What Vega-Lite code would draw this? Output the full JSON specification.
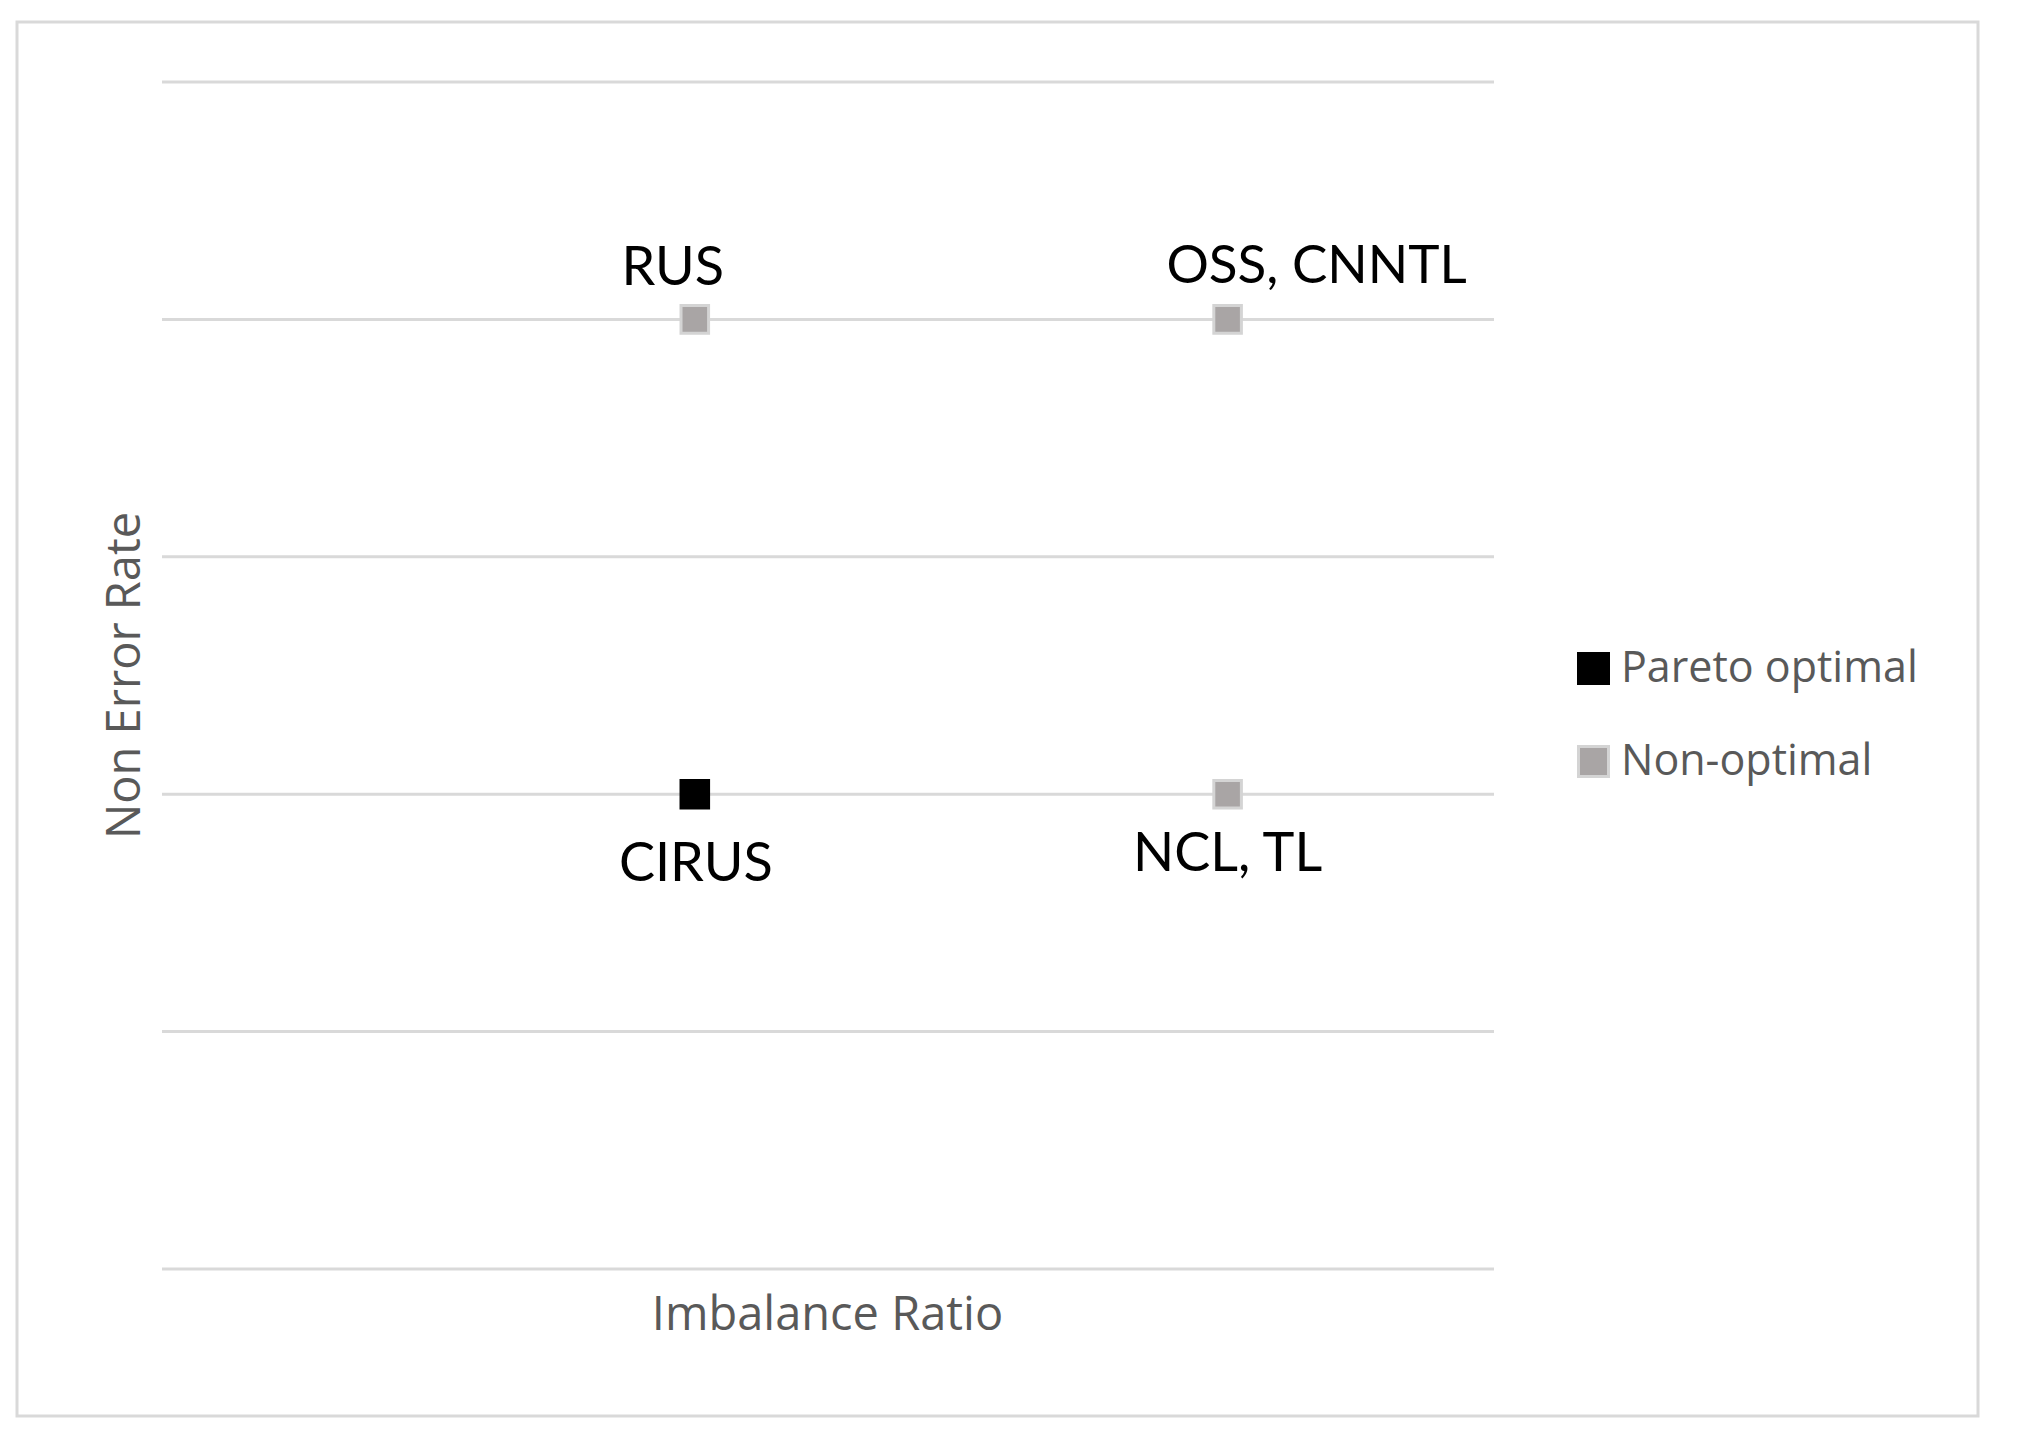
{
  "$schema": "https://vega.github.io/schema/vega-lite/v6.json",
  "width": 1961,
  "height": 1394,
  "autosize": {"type": "none"},
  "padding": {"left": 17, "top": 22, "right": 40, "bottom": 30},
  "background": "white",
  "datasets": {
    "grid": [{"rate": 0}, {"rate": 1}, {"rate": 2}, {"rate": 3}, {"rate": 4}, {"rate": 5}],
    "methods": [
      {"ratio": 2, "rate": 4, "label": "RUS", "status": "Non-optimal"},
      {"ratio": 4, "rate": 4, "label": "OSS, CNNTL", "status": "Non-optimal"},
      {"ratio": 2, "rate": 2, "label": "CIRUS", "status": "Pareto optimal"},
      {"ratio": 4, "rate": 2, "label": "NCL, TL", "status": "Non-optimal"}
    ]
  },
  "config": {
    "view": {"stroke": "#d9d9d9", "strokeWidth": 3},
    "axis": {
      "domain": false, "ticks": false, "labels": false, "grid": false,
      "titleFont": "Open Sans", "titleFontSize": 47, "titleFontWeight": "normal", "titleColor": "#595959"
    },
    "text": {"font": "Lato"}
  },
  "layer": [
    {
      "data": {"name": "grid"},
      "mark": {"type": "rule", "color": "#d9d9d9", "strokeWidth": 3},
      "encoding": {
        "y": {"field": "rate", "type": "quantitative", "title": "Non Error Rate",
              "scale": {"domain": [-0.6192, 5.2527], "nice": false, "zero": false},
              "axis": {"titleX": 122, "titleY": 653, "titleAlign": "center", "titleBaseline": "alphabetic", "titleAngle": 270}},
        "x": {"datum": 0, "type": "quantitative", "title": "Imbalance Ratio",
              "scale": {"domain": [-0.5443, 6.8168], "nice": false, "zero": false},
              "axis": {"titleX": 810, "titleY": -87, "titleAlign": "center", "titleBaseline": "alphabetic"}},
        "x2": {"datum": 5}
      }
    },
    {
      "data": {"name": "methods"},
      "encoding": {
        "y": {"field": "rate", "type": "quantitative", "title": "Non Error Rate",
              "scale": {"domain": [-0.6192, 5.2527], "nice": false, "zero": false},
              "axis": {"titleX": 122, "titleY": 653, "titleAlign": "center", "titleBaseline": "alphabetic", "titleAngle": 270}},
        "x": {"field": "ratio", "type": "quantitative", "title": "Imbalance Ratio",
              "scale": {"domain": [-0.5443, 6.8168], "nice": false, "zero": false},
              "axis": {"titleX": 810, "titleY": -87, "titleAlign": "center", "titleBaseline": "alphabetic"}}
      },
      "layer": [
        {
          "mark": {"type": "point", "shape": "square", "filled": true, "size": 760, "strokeWidth": 3, "opacity": 1, "strokeOpacity": 1, "fillOpacity": 1},
          "encoding": {
            "fill": {"field": "status", "type": "nominal",
                     "scale": {"domain": ["Pareto optimal", "Non-optimal"], "range": ["#000000", "#a9a5a5"]},
                     "legend": {"orient": "none", "legendX": 1555, "legendY": 625, "title": null, "padding": 0,
                                "symbolType": "square", "symbolSize": 900, "symbolStrokeWidth": 3,
                                "labelFont": "Open Sans", "labelFontSize": 43, "labelColor": "#595959", "labelLimit": 0,
                                "labelOffset": 6, "rowPadding": 49}},
            "stroke": {"field": "status", "type": "nominal",
                       "scale": {"domain": ["Pareto optimal", "Non-optimal"], "range": ["#000000", "#d4d4d4"]},
                       "legend": {"orient": "none", "legendX": 1555, "legendY": 625, "title": null, "padding": 0,
                                  "symbolType": "square", "symbolSize": 900, "symbolStrokeWidth": 3,
                                  "labelFont": "Open Sans", "labelFontSize": 43, "labelColor": "#595959", "labelLimit": 0,
                                  "labelOffset": 6, "rowPadding": 49}}
          }
        },
        {
          "transform": [{"filter": "datum.label == 'RUS'"}],
          "mark": {"type": "text", "fontSize": 54, "color": "#000000", "align": "center", "baseline": "alphabetic", "dx": -22, "dy": -34},
          "encoding": {"text": {"field": "label"}}
        },
        {
          "transform": [{"filter": "datum.label == 'OSS, CNNTL'"}],
          "mark": {"type": "text", "fontSize": 53, "color": "#000000", "align": "center", "baseline": "alphabetic", "dx": 89, "dy": -36},
          "encoding": {"text": {"field": "label"}}
        },
        {
          "transform": [{"filter": "datum.label == 'CIRUS'"}],
          "mark": {"type": "text", "fontSize": 54, "color": "#000000", "align": "center", "baseline": "alphabetic", "dx": 1, "dy": 87},
          "encoding": {"text": {"field": "label"}}
        },
        {
          "transform": [{"filter": "datum.label == 'NCL, TL'"}],
          "mark": {"type": "text", "fontSize": 54, "color": "#000000", "align": "center", "baseline": "alphabetic", "dx": 0, "dy": 77},
          "encoding": {"text": {"field": "label"}}
        }
      ]
    }
  ]
}
